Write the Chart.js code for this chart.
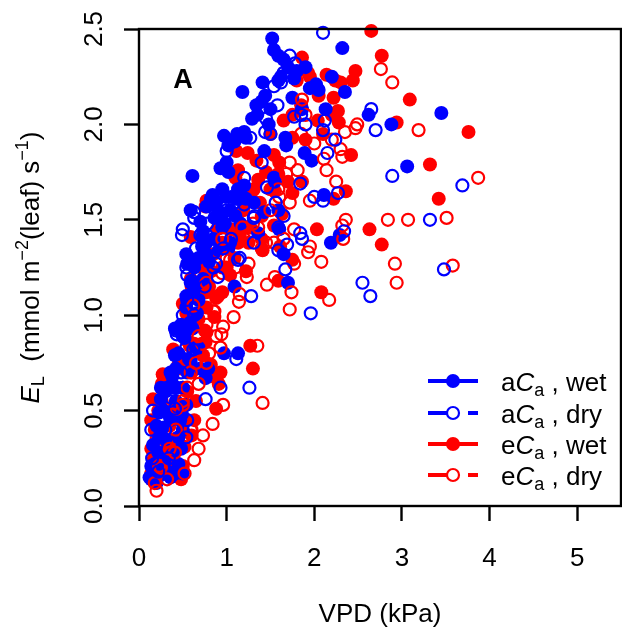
<!DOCTYPE html>
<html><head><meta charset="utf-8">
<script src="https://cdn.jsdelivr.net/npm/chart.js@4.4.1/dist/chart.umd.min.js"></script>
<style>html,body{margin:0;padding:0;background:#fff}#wrap{width:622px;height:639px;position:relative}</style>
</head><body><div id="wrap"><canvas id="c" width="622" height="639"></canvas></div>
<script>
const FONT = '"Liberation Sans", Arial, Helvetica, sans-serif';
const xTickValues = [0,1,2,3,4,5];
const yTickValues = [0,0.5,1,1.5,2,2.5];
const yTickLabels = ['0.0','0.5','1.0','1.5','2.0','2.5'];
const seriesNames = ['aCa , wet','aCa , dry','eCa , wet','eCa , dry'];

const aCaWet = [[1.52,2.45],[1.54,2.39],[2.32,2.40],[1.59,2.36],[1.65,2.34],[1.41,2.22],[1.18,2.17],[1.44,2.15],[1.34,2.10],[1.29,2.03],[0.97,1.94],[1.12,1.95],[1.22,1.93],[1.43,1.86],[1.67,1.93],[1.68,1.89],[1.75,2.14],[1.86,2.08],[1.95,2.19],[2.02,2.21],[2.20,2.25],[2.35,2.17],[2.13,2.08],[2.62,2.05],[2.88,2.00],[3.45,2.06],[3.06,1.78],[1.97,1.81],[1.89,1.85],[0.61,1.73],[1.00,1.80],[0.93,1.77],[1.54,1.72],[1.59,1.55],[2.11,1.63],[2.19,1.38],[2.29,1.42],[1.36,1.43],[1.70,1.17],[1.65,1.32],[0.97,0.80],[1.13,0.80],[0.79,0.72],[1.11,1.61],[1.22,1.61],[0.84,1.63],[0.95,1.66],[1.04,1.55],[1.04,1.38],[0.73,1.44],[0.54,1.32],[0.63,1.25],[0.73,1.19],[0.63,1.15],[0.68,1.08],[0.54,1.04],[0.48,0.95],[0.61,0.93],[0.41,0.79],[0.36,0.70],[0.25,0.62],[0.43,0.62],[0.54,0.53],[0.27,0.41],[0.50,0.40],[0.16,0.32],[0.29,0.23],[0.41,0.17],[0.14,0.14],[0.20,0.12],[0.86,1.51],[0.95,1.46],[0.77,1.38],[0.91,1.34],[1.31,1.59],[1.43,1.54],[1.16,1.48],[1.09,1.15],[1.77,2.24],[1.59,2.23],[1.90,2.30],[0.82,1.61],[0.99,1.62],[1.14,1.61],[0.72,1.41],[1.02,1.35],[0.55,1.27],[0.68,1.17],[0.60,1.09],[0.66,1.01],[0.49,0.90],[0.57,0.77],[0.42,0.72],[0.76,0.67],[0.25,0.56],[0.38,0.64],[0.23,0.36],[0.49,0.48],[0.12,0.15],[0.18,0.22],[0.22,0.28],[0.25,0.20],[0.30,0.35],[0.33,0.18],[0.38,0.27],[0.45,0.22],[0.48,0.30],[0.20,0.42],[0.28,0.50],[0.35,0.47],[0.42,0.55],[0.47,0.45],[0.30,0.60],[0.38,0.68],[0.50,0.62],[0.55,0.70],[0.45,0.80],[0.52,0.88],[0.58,0.96],[0.65,0.83],[0.70,0.72],[0.62,1.12],[0.68,1.30],[0.72,1.36],[0.80,1.28],[0.85,1.40],[0.90,1.55],[0.98,1.48],[1.05,1.62],[1.10,1.52],[1.15,1.66],[1.02,1.75],[1.08,1.92],[1.20,1.96],[1.35,2.05],[1.48,2.00],[1.40,2.12],[1.50,2.08],[1.62,2.25],[1.70,2.30],[1.80,2.28],[2.05,2.18],[1.55,1.70],[1.60,1.45],[0.59,1.55],[0.70,1.49],[0.77,1.57],[0.88,1.59],[0.95,1.53],[1.13,1.66],[1.20,1.68],[1.02,1.89],[1.09,1.91],[0.59,1.29],[0.77,1.32],[0.59,1.17],[0.54,1.10],[0.41,0.93],[0.50,0.89],[0.68,0.83],[0.59,0.76],[0.32,0.62],[0.50,0.62],[0.23,0.49],[0.36,0.45],[0.45,0.36],[0.14,0.21],[0.23,0.16],[0.36,0.15],[0.50,0.17]];

const aCaDry = [[2.10,2.48],[1.72,2.36],[1.65,2.27],[1.54,2.20],[2.65,2.08],[2.70,1.97],[2.89,1.73],[3.69,1.68],[3.32,1.50],[3.48,1.24],[2.55,1.17],[2.64,1.10],[1.96,1.01],[1.28,1.10],[1.26,0.62],[0.93,0.62],[1.11,0.77],[0.76,0.56],[0.50,1.45],[0.63,1.54],[0.54,1.25],[1.00,1.86],[1.20,1.72],[1.27,1.93],[1.45,2.03],[1.44,1.96],[1.56,1.59],[1.84,1.43],[1.67,1.24],[1.69,1.37],[2.10,1.97],[2.12,2.02],[2.24,1.92],[2.27,1.64],[2.10,1.60],[2.34,1.44],[1.90,2.00],[1.84,1.69],[1.46,1.67],[0.90,1.20],[0.43,0.90],[0.41,0.51],[0.16,0.50],[0.20,0.32],[0.54,0.36],[0.34,0.25],[1.77,2.04],[1.31,1.38],[0.96,1.35],[1.09,1.59],[0.49,1.42],[0.63,1.51],[0.55,1.21],[0.15,0.25],[0.22,0.18],[0.30,0.40],[0.35,0.55],[0.40,0.62],[0.48,0.70],[0.42,0.92],[0.50,1.00],[0.55,1.08],[0.60,1.18],[0.65,1.35],[0.70,1.42],[0.78,1.48],[0.85,1.56],[0.92,1.62],[1.00,1.55],[1.05,1.40],[1.15,1.30],[1.20,1.58],[1.32,1.52],[1.40,1.80],[1.50,1.95],[1.58,2.10],[1.62,2.22],[1.78,2.32],[1.85,2.05],[2.00,1.62],[2.15,1.85],[1.65,1.52],[0.75,1.15],[0.85,1.25],[0.62,0.82],[0.55,0.45],[0.77,1.42],[0.88,1.27],[0.63,1.00],[0.54,0.83],[0.36,0.57],[0.14,0.40],[1.13,1.29],[1.31,1.51],[1.59,1.46],[1.59,1.34],[1.86,1.40]];

const eCaWet = [[2.65,2.49],[2.77,2.36],[2.47,2.28],[2.44,2.23],[3.09,2.13],[2.94,2.01],[3.76,1.96],[3.32,1.79],[3.42,1.61],[2.63,1.45],[2.77,1.37],[2.03,1.45],[2.08,1.12],[1.59,1.18],[2.42,1.84],[2.36,1.65],[2.22,1.61],[2.27,2.07],[2.28,2.01],[2.22,2.14],[2.14,2.26],[2.24,2.23],[1.93,2.27],[1.86,2.35],[1.80,2.23],[2.04,2.02],[1.90,1.92],[1.75,1.93],[1.65,2.02],[1.86,1.70],[1.75,1.64],[1.36,1.71],[1.11,1.75],[1.11,1.86],[1.24,1.85],[1.54,1.84],[1.34,1.81],[1.50,1.95],[1.38,1.59],[1.19,1.55],[0.89,1.45],[0.77,1.60],[1.54,1.47],[1.61,1.36],[1.75,1.29],[1.04,1.21],[0.88,1.09],[0.77,1.04],[0.77,0.91],[0.63,0.85],[1.27,0.84],[1.30,0.72],[0.88,0.51],[0.93,0.70],[0.82,0.68],[0.27,0.69],[0.39,0.82],[0.50,1.06],[0.59,1.19],[0.54,0.53],[0.63,0.45],[0.16,0.56],[0.14,0.45],[0.20,0.35],[0.16,0.24],[0.27,0.17],[0.50,0.21],[0.36,0.28],[0.52,0.31],[0.86,0.99],[1.09,1.30],[1.25,1.38],[1.40,1.40],[1.63,1.53],[1.10,1.72],[0.59,1.41],[0.76,1.57],[1.22,1.23],[0.60,1.15],[0.54,1.01],[0.76,0.86],[0.26,0.64],[0.91,0.64],[0.60,0.37],[0.34,0.16],[0.48,0.14],[0.14,0.30],[0.18,0.40],[0.22,0.50],[0.26,0.55],[0.30,0.25],[0.35,0.42],[0.40,0.35],[0.45,0.50],[0.55,0.60],[0.60,0.70],[0.65,0.55],[0.70,0.80],[0.75,0.92],[0.62,0.98],[0.68,1.12],[0.72,1.25],[0.80,1.15],[0.85,1.32],[0.95,1.38],[1.00,1.25],[1.05,1.45],[1.15,1.42],[1.20,1.65],[1.30,1.60],[1.40,1.52],[1.45,1.75],[1.55,1.65],[1.60,1.80],[1.70,1.70],[1.75,2.05],[1.85,2.10],[1.95,2.25],[2.05,2.15],[2.10,1.95],[2.20,2.05],[2.30,2.22],[0.28,0.68],[0.32,0.62],[0.48,0.72],[0.58,0.84],[0.68,1.29],[0.82,1.23],[0.95,1.25],[0.77,1.12],[0.95,1.12],[0.68,0.98],[0.54,0.87],[0.73,0.79],[0.82,0.74],[0.45,0.74],[0.32,0.64],[0.41,0.53],[0.54,0.45],[0.23,0.40],[0.32,0.32],[0.41,0.23],[0.14,0.17],[1.13,1.38],[1.27,1.46],[1.41,1.34],[1.13,1.76],[1.31,1.66],[1.50,1.66],[1.59,1.74]];

const eCaDry = [[2.76,2.29],[2.89,2.22],[3.19,1.97],[2.49,2.00],[2.47,1.98],[3.87,1.72],[3.51,1.51],[3.07,1.50],[2.84,1.50],[2.92,1.27],[2.94,1.17],[3.58,1.26],[2.36,1.50],[2.32,1.47],[2.33,1.40],[2.08,1.28],[1.95,1.36],[1.93,1.33],[2.17,1.08],[1.74,1.12],[1.72,1.03],[1.46,1.16],[1.15,1.11],[1.23,1.20],[1.08,0.99],[0.96,0.94],[0.88,0.89],[1.35,0.84],[1.41,0.54],[0.96,0.53],[0.84,0.43],[0.73,0.37],[0.63,0.24],[0.52,0.17],[0.20,0.08],[0.32,0.14],[2.11,1.82],[2.14,1.76],[1.95,1.60],[1.77,1.45],[1.86,2.13],[2.35,1.96],[2.30,1.87],[2.32,1.83],[1.72,1.80],[1.81,1.76],[1.68,1.74],[1.77,1.27],[1.45,1.38],[1.25,1.27],[0.77,0.75],[0.68,0.64],[0.93,0.83],[0.68,0.30],[0.43,0.51],[0.77,0.95],[1.14,1.07],[0.94,0.90],[0.18,0.12],[0.25,0.20],[0.35,0.30],[0.42,0.40],[0.50,0.55],[0.55,0.62],[0.60,0.40],[0.65,0.75],[0.72,0.85],[0.80,0.80],[0.85,1.02],[0.90,1.10],[0.95,1.22],[1.00,1.30],[1.10,1.25],[1.20,1.40],[1.30,1.48],[1.40,1.35],[1.50,1.55],[1.60,1.62],[1.65,1.40],[1.85,1.95],[1.90,2.05],[2.00,1.90],[2.20,1.92],[2.25,1.70],[1.55,1.20],[0.62,1.05],[0.95,1.40],[1.04,1.29],[1.18,1.46],[1.36,1.46],[1.54,1.38],[0.77,1.17],[0.86,1.02],[0.68,0.89],[0.59,0.70],[0.50,0.53],[0.59,0.40],[0.41,0.28],[0.23,0.21],[1.59,1.66],[1.72,1.59]];

const BLUE = '#0000FF', RED = '#FF0000';
const toPts = a => a.map(p => ({x:p[0], y:p[1]}));

function setFont(ctx, size, italic, bold){
  ctx.font = (italic?'italic ':'') + (bold?'bold ':'') + size + 'px ' + FONT;
}
function richWidth(ctx, parts){
  let w = 0;
  for (const p of parts){ setFont(ctx, p.s, p.i, p.b); w += ctx.measureText(p.t).width; }
  return w;
}
function drawRich(ctx, parts, x, y){
  let cx = x;
  for (const p of parts){
    setFont(ctx, p.s, p.i, p.b);
    ctx.fillText(p.t, cx, y + (p.dy||0));
    cx += ctx.measureText(p.t).width;
  }
}

const decor = {
  id:'decor',
  afterDraw(chart){
    const ctx = chart.ctx, ca = chart.chartArea, ys = chart.scales.y;
    ctx.save();
    ctx.strokeStyle = '#000'; ctx.lineWidth = 2.4;
    ctx.strokeRect(ca.left, ca.top, ca.right - ca.left, ca.bottom - ca.top);
    ctx.fillStyle = '#000';
    ctx.textAlign = 'center'; ctx.textBaseline = 'alphabetic';
    yTickValues.forEach((v,i) => {
      const py = ys.getPixelForValue(v);
      ctx.save(); ctx.translate(102, py); ctx.rotate(-Math.PI/2);
      setFont(ctx, 26); ctx.fillText(yTickLabels[i], 0, 0);
      ctx.restore();
    });
    const yTitle = [{t:'E',s:26,i:true},{t:'L',s:18,dy:5},{t:'  (mmol m',s:26},{t:'\u22122',s:18,dy:-11},{t:'(leaf) s',s:26},{t:'\u22121',s:18,dy:-11},{t:')',s:26}];
    ctx.save();
    const cy = (ca.top + ca.bottom)/2;
    ctx.translate(39, cy); ctx.rotate(-Math.PI/2);
    ctx.textAlign = 'left';
    const w = richWidth(ctx, yTitle);
    drawRich(ctx, yTitle, -w/2, 0);
    ctx.restore();
    ctx.textAlign = 'center';
    setFont(ctx, 27, false, true);
    ctx.fillText('A', 183, 88);
    const rows = [
      {c:BLUE, filled:true, name:['a','wet']},
      {c:BLUE, filled:false, name:['a','dry']},
      {c:RED, filled:true, name:['e','wet']},
      {c:RED, filled:false, name:['e','dry']}
    ];
    const rowY = [381, 413, 444, 475];
    ctx.textAlign = 'left';
    rows.forEach((r,k) => {
      const y = rowY[k];
      ctx.strokeStyle = r.c; ctx.lineWidth = 4; ctx.lineCap = 'butt';
      ctx.beginPath();
      if (r.filled){ ctx.moveTo(428,y); ctx.lineTo(478,y); }
      else { ctx.moveTo(428,y); ctx.lineTo(447,y); ctx.moveTo(468,y); ctx.lineTo(478,y); }
      ctx.stroke();
      ctx.beginPath(); ctx.arc(453, y, r.filled?7:6, 0, Math.PI*2);
      if (r.filled){ ctx.fillStyle = r.c; ctx.fill(); }
      else { ctx.lineWidth = 2.2; ctx.stroke(); }
      ctx.fillStyle = '#000';
      const parts = [{t:r.name[0],s:26},{t:'C',s:26,i:true},{t:'a',s:18,dy:5},{t:' , '+r.name[1],s:26}];
      drawRich(ctx, parts, 501, y + 10);
    });
    ctx.restore();
  }
};

const ds = (label, arr, color, filled, order) => ({
  label, data: toPts(arr), order,
  pointRadius: filled ? 7 : 6,
  pointHoverRadius: filled ? 7 : 6,
  pointBackgroundColor: filled ? color : 'rgba(0,0,0,0)',
  pointBorderColor: color,
  pointBorderWidth: filled ? 0 : 2.2,
  showLine: false,
  clip: false
});

new Chart(document.getElementById('c').getContext('2d'), {
  type: 'scatter',
  data: { datasets: [
    ds(seriesNames[2], eCaWet, RED, true, 4),
    ds(seriesNames[0], aCaWet, BLUE, true, 3),
    ds(seriesNames[3], eCaDry, RED, false, 2),
    ds(seriesNames[1], aCaDry, BLUE, false, 1)
  ]},
  options: {
    responsive: false, animation: false, devicePixelRatio: 1,
    layout: { autoPadding: false, padding: { left: 0, right: 1, top: 29, bottom: 0 } },
    plugins: { legend: { display: false }, tooltip: { enabled: false } },
    scales: {
      x: {
        type: 'linear', min: 0, max: 5.5,
        afterFit(s){ s.height = 133; s.paddingLeft = 0; s.paddingRight = 0; s.paddingTop = 0; s.paddingBottom = 0; },
        ticks: { stepSize: 1, includeBounds: false, color: '#000', padding: 22, maxRotation: 0,
                 font: { family: FONT, size: 26 } },
        grid: { drawOnChartArea: false, drawTicks: true, tickLength: 15, tickWidth: 2.4, tickColor: '#000' },
        border: { display: false },
        title: { display: true, text: 'VPD (kPa)', color: '#000', font: { family: FONT, size: 26 },
                 padding: { top: 0, bottom: 9 } }
      },
      y: {
        type: 'linear', min: 0, max: 2.5,
        afterFit(s){ s.width = 139; s.paddingLeft = 0; s.paddingRight = 0; s.paddingTop = 0; s.paddingBottom = 0; },
        ticks: { stepSize: 0.5, includeBounds: false, color: 'rgba(0,0,0,0)', font: { family: FONT, size: 26 } },
        grid: { drawOnChartArea: false, drawTicks: true, tickLength: 15, tickWidth: 2.4, tickColor: '#000' },
        border: { display: false }
      }
    }
  },
  plugins: [decor]
});
</script></body></html>
